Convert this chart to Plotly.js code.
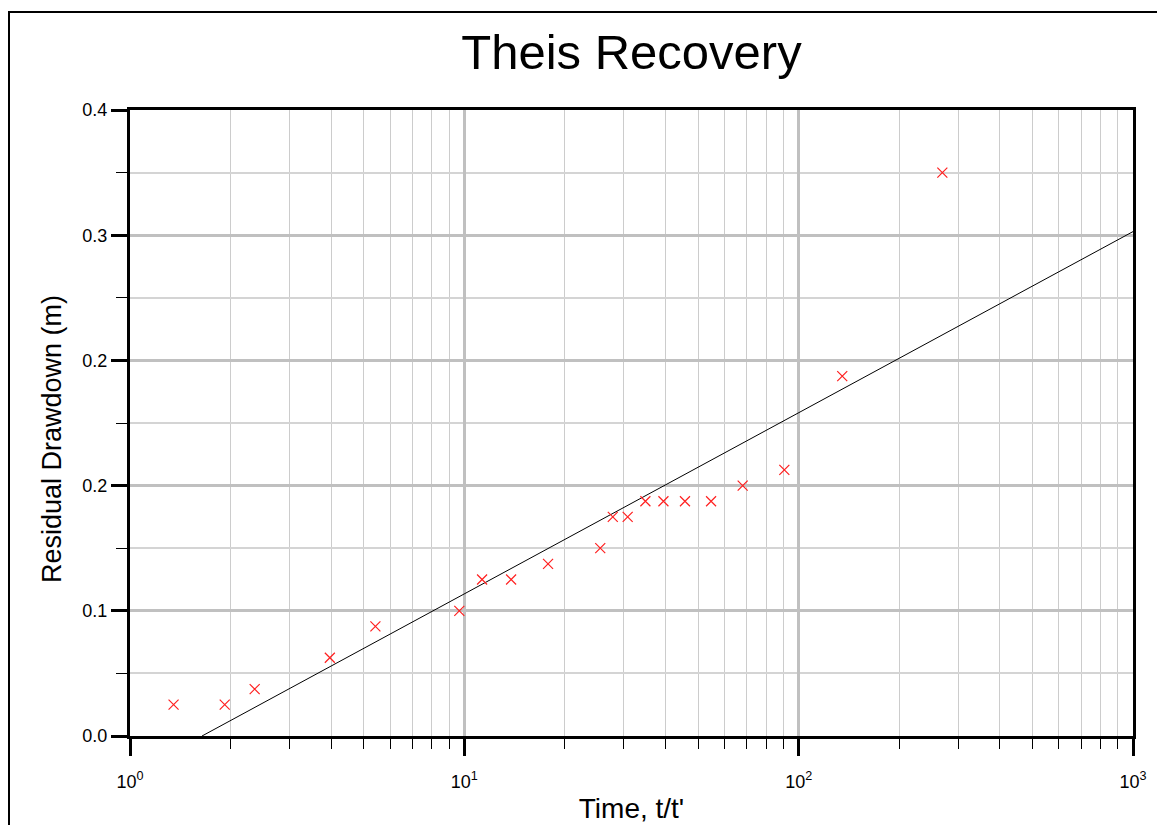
<!DOCTYPE html>
<html>
<head>
<meta charset="utf-8">
<script src="https://cdn.plot.ly/plotly-3.0.1.min.js"></script>
<style>
  html, body { margin: 0; padding: 0; background: #ffffff; overflow: hidden; }
  #frame {
    position: absolute; left: 8px; top: 11px;
    width: 1300px; height: 1000px;
    border: 2px solid #000000; box-sizing: border-box;
  }
  #chart { position: absolute; left: 0; top: 0; width: 1157px; height: 825px; }
</style>
</head>
<body>
<div id="frame"></div>
<div id="chart"></div>
<script>
// Recovery measurements: ratio t/t' against residual drawdown (m)
const timeRatio = [1.35, 1.92, 2.36, 3.96, 5.42, 9.66, 11.3, 13.8, 17.8, 25.5,
                   27.8, 30.8, 34.8, 39.4, 45.7, 54.7, 68.0, 90.6, 135, 269];
const residualDrawdown = [0.02, 0.02, 0.03, 0.05, 0.07, 0.08, 0.10, 0.10, 0.11, 0.12,
                          0.14, 0.14, 0.15, 0.15, 0.15, 0.15, 0.16, 0.17, 0.23, 0.36];

// Straight-line fit through the semi-log data
const fitX = [1.642, 1000];
const fitY = [0, 0.3223];

// Axis tick labels
const xTickVals = [1, 10, 100, 1000];
const xTickText = ['10<sup>0</sup>', '10<sup>1</sup>', '10<sup>2</sup>', '10<sup>3</sup>'];
const xMinorVals = [];
[1, 10, 100].forEach(function (d) {
  for (let k = 2; k <= 9; k++) xMinorVals.push(d * k);
});

const FONT = '"Liberation Sans", Arial, sans-serif';

const traces = [
  {
    x: fitX, y: fitY,
    type: 'scatter', mode: 'lines',
    line: { color: '#000000', width: 1 },
    hoverinfo: 'skip', showlegend: false
  },
  {
    x: timeRatio, y: residualDrawdown,
    type: 'scatter', mode: 'markers',
    marker: { symbol: 'x-thin', size: 10, color: '#ff2020', line: { color: '#ff2020', width: 1.2 } },
    showlegend: false
  }
];

const layout = {
  width: 1157, height: 825,
  margin: { l: 130, r: 24, t: 110, b: 89, pad: 0 },
  paper_bgcolor: 'rgba(0,0,0,0)',
  plot_bgcolor: '#ffffff',
  font: { family: FONT, color: '#000000' },
  showlegend: false,
  title: {
    text: 'Theis Recovery',
    font: { family: FONT, size: 49, color: '#000000' },
    xref: 'paper', x: 0.5, xanchor: 'center',
    yref: 'container', y: 1 - 52 / 825, yanchor: 'middle'
  },
  xaxis: {
    type: 'log', range: [0, 3],
    tickmode: 'array', tickvals: xTickVals, ticktext: xTickText,
    tickfont: { family: FONT, size: 18, color: '#000000' },
    ticklabelstandoff: 10,
    ticks: 'outside', ticklen: 17, tickwidth: 3, tickcolor: '#000000',
    showline: true, linecolor: '#000000', linewidth: 3, mirror: true,
    showgrid: true, gridcolor: '#c0c0c0', gridwidth: 3,
    zeroline: false,
    minor: {
      tickmode: 'array', tickvals: xMinorVals,
      ticks: 'outside', ticklen: 10, tickwidth: 1, tickcolor: '#000000',
      showgrid: true, gridcolor: '#cccccc', gridwidth: 1
    },
    title: { text: "Time, t/t'", font: { family: FONT, size: 28, color: '#000000' }, standoff: 8 },
    automargin: false
  },
  yaxis: {
    range: [0, 0.4],
    tick0: 0, dtick: 0.08, tickformat: '.1f',
    tickfont: { family: FONT, size: 18, color: '#000000' },
    ticks: 'outside', ticklen: 16, tickwidth: 3, tickcolor: '#000000',
    showline: true, linecolor: '#000000', linewidth: 3, mirror: true,
    showgrid: true, gridcolor: '#c0c0c0', gridwidth: 3,
    zeroline: false,
    minor: {
      tick0: 0, dtick: 0.04,
      ticks: 'outside', ticklen: 11, tickwidth: 1, tickcolor: '#000000',
      showgrid: true, gridcolor: '#d4d4d4', gridwidth: 2
    },
    automargin: false
  },
  annotations: [
    {
      text: 'Residual Drawdown (m)',
      textangle: -90,
      font: { family: FONT, size: 27, color: '#000000' },
      xref: 'paper', x: (52 - 130) / 1003, xanchor: 'center',
      yref: 'paper', y: (736 - 439) / 626, yanchor: 'middle',
      showarrow: false
    }
  ]
};

Plotly.newPlot('chart', traces, layout, { staticPlot: true, displayModeBar: false });
</script>
</body>
</html>
